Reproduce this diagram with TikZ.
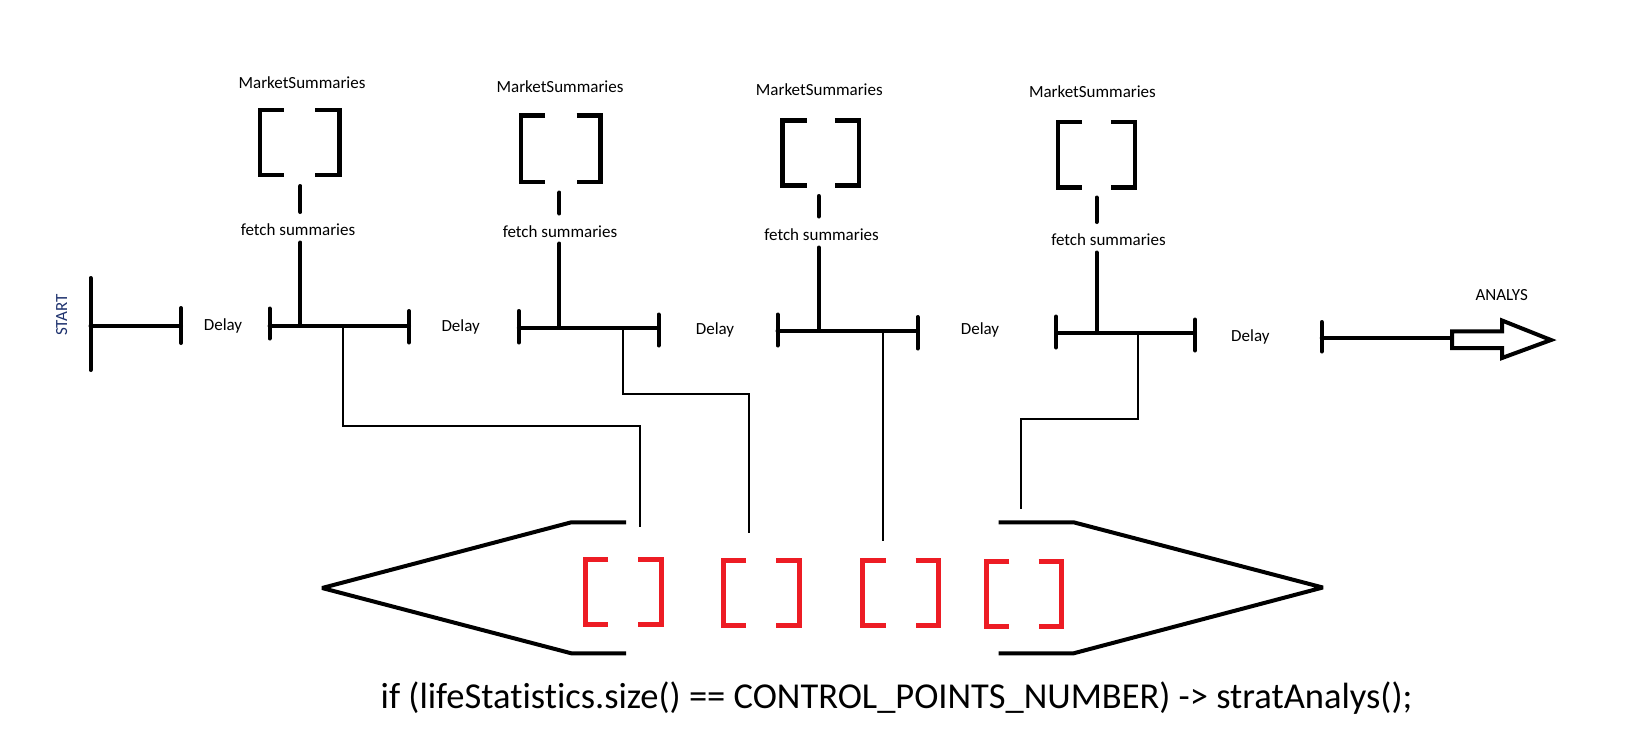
\documentclass[tikz,border=0pt]{standalone}
\usepackage{fontspec}
\setmainfont{Carlito}[Ligatures={NoCommon}]
\definecolor{pred}{RGB}{237,28,36}
\definecolor{navy}{RGB}{30,50,110}
\newcommand\mybrk[6]{%
 \draw[#1] ({#2+#6},#4) -- (#2,#4) -- (#2,#5) -- ({#2+#6},#5);
 \draw[#1] ({#3-#6},#4) -- (#3,#4) -- (#3,#5) -- ({#3-#6},#5);}
\begin{document}
\begin{tikzpicture}[x=1pt,y=-1pt,
 bar/.style={line width=4pt, line cap=round},
 wire/.style={line width=2pt},
 hexl/.style={line width=4pt, line join=bevel},
 blkbr/.style={line width=4.5pt, line cap=butt, line join=miter},
 redbr/.style={draw=pred, line width=5pt, line cap=butt, line join=miter},
 lbl/.style={font=\fontsize{17}{20}\selectfont, inner sep=0pt},
 big/.style={font=\fontsize{36.5}{42}\selectfont, inner sep=0pt}]
\useasboundingbox[fill=white] (0,0) rectangle (1635,744);

% ---------- START ----------
\node[lbl, text=navy, rotate=90] (start) at (61.7,315) {START};
\coordinate (s0t) at (90.5,278); \coordinate (s0b) at (90.5,370);
\coordinate (s0m) at (90.5,325.7);
\coordinate (s1t) at (181,308); \coordinate (s1b) at (181,343);
\coordinate (s1m) at (181,325.7);
\draw[bar] (s0t) -- (s0b);
\draw[bar] (s0m) -- (s1m);
\draw[bar] (s1t) -- (s1b);

% ---------- Delays ----------
\node[lbl] (d1) at (223,326) {Delay};
\node[lbl] (d2) at (460.7,326.7) {Delay};
\node[lbl] (d3) at (715,330) {Delay};
\node[lbl] (d4) at (980,330) {Delay};
\node[lbl] (d5) at (1250.4,336.7) {Delay};

% ---------- Group 1 ----------
\node[lbl] (ms1) at (302,82.7) {MarketSummaries};
\node[lbl] (fs1) at (298,230) {fetch summaries};
\mybrk{blkbr}{259.8}{339.3}{109.9}{175.1}{24}
\draw[bar] (300.4,186) -- (300.4,212);
\coordinate (g1l) at (269.6,325.7); \coordinate (g1r) at (409,325.7);
\draw[bar] (269.6,308.5) -- (269.6,338.5);
\draw[bar] (409,311) -- (409,342.5);
\draw[bar] (g1l) -- (g1r);
\coordinate (f1) at (300.4,242.5); \coordinate (f1b) at (300.4,325.7);
\draw[bar] (f1) -- (f1b);

% ---------- Group 2 ----------
\node[lbl] (ms2) at (560,86.7) {MarketSummaries};
\node[lbl] (fs2) at (560,232) {fetch summaries};
\mybrk{blkbr}{521.2}{600.5}{115.5}{181.8}{24}
\draw[bar] (559.4,192.5) -- (559.4,213.5);
\coordinate (g2l) at (518.8,327.7); \coordinate (g2r) at (658.5,327.7);
\draw[bar] (518.8,311) -- (518.8,342.5);
\draw[bar] (658.5,314.5) -- (658.5,345.5);
\draw[bar] (g2l) -- (g2r);
\coordinate (f2) at (559.4,243.5); \coordinate (f2b) at (559.4,327.7);
\draw[bar] (f2) -- (f2b);

% ---------- Group 3 ----------
\node[lbl] (ms3) at (819.3,90) {MarketSummaries};
\node[lbl] (fs3) at (821.6,234.7) {fetch summaries};
\mybrk{blkbr}{782.7}{858.8}{120.5}{185.5}{24}
\draw[bar] (818.7,196) -- (818.7,216.5);
\coordinate (g3l) at (777.5,330.7); \coordinate (g3r) at (917.6,330.7);
\draw[bar] (777.5,314.5) -- (777.5,345.5);
\draw[bar] (917.6,317) -- (917.6,348.5);
\draw[bar] (g3l) -- (g3r);
\coordinate (f3) at (818.7,247.5); \coordinate (f3b) at (818.7,330.7);
\draw[bar] (f3) -- (f3b);

% ---------- Group 4 ----------
\node[lbl] (ms4) at (1092.4,92) {MarketSummaries};
\node[lbl] (fs4) at (1108.5,240) {fetch summaries};
\mybrk{blkbr}{1058.2}{1134.8}{122.2}{187.5}{24}
\draw[bar] (1096.5,197.5) -- (1096.5,222);
\coordinate (g4l) at (1056,332.7); \coordinate (g4r) at (1195,332.7);
\draw[bar] (1056,316.5) -- (1056,347.5);
\draw[bar] (1195,319.5) -- (1195,350.5);
\draw[bar] (g4l) -- (g4r);
\coordinate (f4) at (1096.5,252.5); \coordinate (f4b) at (1096.5,332.7);
\draw[bar] (f4) -- (f4b);

% ---------- Final to ANALYS ----------
\coordinate (e0t) at (1321.7,322); \coordinate (e0b) at (1321.7,351.5);
\coordinate (e0m) at (1321.7,338.3);
\coordinate (atail) at (1452,338.3);
\draw[bar] (e0t) -- (e0b);
\draw[bar] (e0m) -- (atail);
\draw[line width=4pt, line join=miter, fill=white]
 (1452,331.3) -- (1502,331.3) -- (1502,320.5) -- (1551,340) -- (1502,358) -- (1502,348) -- (1452,348) -- cycle;
\node[lbl] (analys) at (1501.7,295) {ANALYS};

% ---------- connectors down ----------
\coordinate (c1a) at (343,325.7); \coordinate (c1b) at (343,426);
\coordinate (c1c) at (640.3,426); \coordinate (c1d) at (640.3,527.3);
\draw[wire] (c1a) -- (c1b) -- (c1c) -- (c1d);
\coordinate (c2a) at (622.8,327.7); \coordinate (c2b) at (622.8,394);
\coordinate (c2c) at (748.8,394); \coordinate (c2d) at (748.8,532.7);
\draw[wire] (c2a) -- (c2b) -- (c2c) -- (c2d);
\coordinate (c3a) at (882.6,330.7); \coordinate (c3d) at (882.6,540.7);
\draw[wire] (c3a) -- (c3d);
\coordinate (c4a) at (1137.5,332.7); \coordinate (c4b) at (1137.5,419.3);
\coordinate (c4c) at (1020.7,419.3); \coordinate (c4d) at (1020.7,509.3);
\draw[wire] (c4a) -- (c4b) -- (c4c) -- (c4d);

% ---------- hexagon ----------
\draw[hexl] (626.2,522.3) -- (571.3,522.3) -- (322.1,588) -- (571.3,653.3) -- (626.2,653.3);
\draw[hexl] (998.6,522.3) -- (1073.6,522.3) -- (1322.8,587.5) -- (1073.6,653.3) -- (998.6,653.3);

% ---------- red brackets ----------
\mybrk{redbr}{585.1}{661.2}{559.5}{624.5}{23}
\mybrk{redbr}{723.1}{799.2}{560.5}{625.5}{23}
\mybrk{redbr}{862.5}{938.5}{560.5}{625.5}{23}
\mybrk{redbr}{986.4}{1061.7}{561.5}{626.5}{23}

% ---------- bottom text ----------
\node[big, anchor=base west] (cond) at (380.5,708.3) {if (lifeStatistics.size() == CONTROL\_POINTS\_NUMBER) -> stratAnalys();};
\end{tikzpicture}
\end{document}
